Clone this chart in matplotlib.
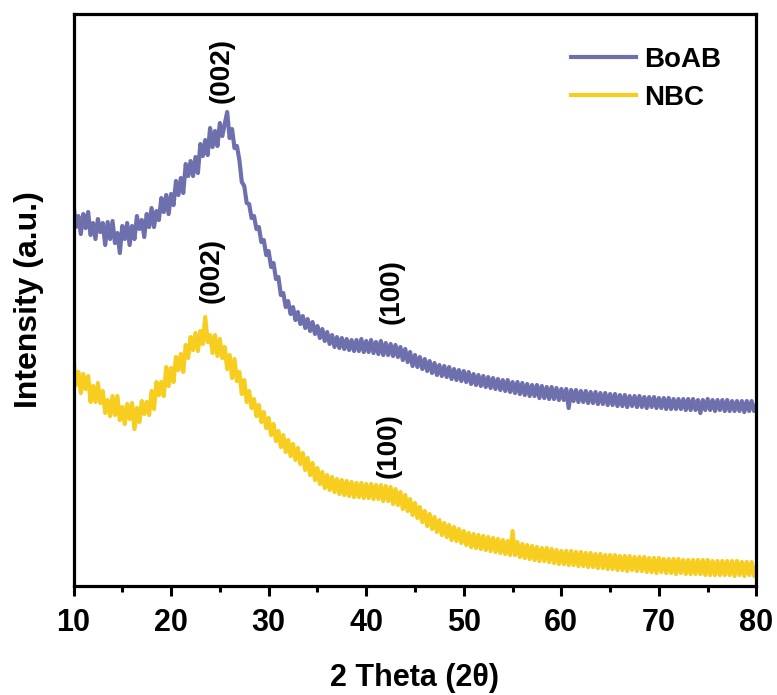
import numpy as np
import matplotlib.pyplot as plt

plt.rcParams['font.family'] = ['Liberation Sans', 'DejaVu Sans']
plt.rcParams['font.weight'] = 'bold'

# 2-theta grid (0.25 deg steps)
two_theta = np.arange(10, 80.001, 0.25)

# BoAB pattern (offset, a.u.)
boab = [
    382, 359, 370, 352,  372, 358, 374, 351,  363, 347, 367, 354,  363, 341, 364, 347,
    365, 343, 353, 333,  360, 347, 363, 341,  360, 347, 370, 357,  366, 349, 372, 359,
    378, 359, 375, 366,  388, 374, 391, 372,  392, 381, 405, 391,  408, 393, 422, 410,
    425, 410, 429, 413,  442, 430, 446, 431,  458, 439, 455, 440,  463, 450, 462, 474,
    448, 457, 438, 440,  426, 404, 400, 383,  382, 368, 370, 357,  359, 344, 346, 331,
    335, 319, 323, 307,  309, 291, 293, 279,  285, 272, 279, 266,  274, 262, 270, 258,
    267, 255, 264, 252,  260, 248, 257, 245,  254, 242, 251, 239,  249, 238, 248, 237,
    247, 236, 246, 235,  246, 235, 247, 234,  245, 234, 246, 233,  244, 232, 245, 231,
    243, 231, 242, 230,  241, 229, 239, 226,  237, 224, 234, 220,  231, 219, 229, 217,
    227, 215, 225, 213,  223, 211, 221, 210,  220, 209, 219, 207,  217, 206, 216, 205,
    215, 204, 214, 202,  212, 201, 211, 200,  210, 199, 209, 198,  208, 197, 207, 196,
    206, 195, 206, 194,  204, 193, 204, 192,  203, 191, 202, 190,  201, 190, 201, 188,
    200, 188, 199, 187,  199, 187, 198, 186,  197, 186, 197, 178,  196, 185, 196, 184,
    195, 184, 195, 183,  194, 183, 194, 182,  193, 182, 193, 181,  192, 181, 192, 180,
    191, 180, 191, 179,  190, 180, 190, 179,  190, 179, 189, 178,  189, 179, 189, 178,
    188, 178, 188, 177,  188, 177, 187, 177,  187, 177, 187, 176,  187, 176, 187, 176,
    186, 173, 186, 176,  187, 176, 186, 175,  186, 176, 186, 175,  186, 175, 185, 175,
    185, 175, 185, 174,  185, 175, 185, 175,  181,
]

# NBC pattern (a.u.)
nbc = [
    228, 201, 214, 193,  212, 197, 210, 184,  200, 184, 203, 183,  195, 173, 186, 170,
    190, 171, 190, 166,  179, 162, 182, 167,  183, 157, 178, 164,  185, 172, 184, 171,
    195, 177, 204, 191,  204, 190, 219, 200,  218, 204, 229, 216,  232, 214, 241, 228,
    249, 236, 253, 235,  255, 242, 269, 244,  251, 233, 251, 230,  247, 228, 239, 217,
    231, 208, 227, 205,  214, 192, 206, 184,  195, 178, 187, 170,  181, 164, 174, 158,
    168, 151, 162, 145,  155, 139, 151, 134,  146, 130, 142, 126,  138, 122, 133, 116,
    128, 111, 123, 106,  118, 102, 114, 98,  111, 96, 109, 94,  107, 92, 106, 91,
    105, 90, 104, 89,  103, 89, 103, 88,  102, 88, 102, 87,  101, 87, 101, 85,
    100, 85, 99, 82,  97, 81, 94, 77,  91, 75, 87, 71,  83, 68, 79, 64,
    75, 60, 72, 57,  69, 54, 66, 51,  63, 49, 61, 46,  59, 45, 57, 43,
    55, 41, 53, 39,  52, 38, 51, 37,  50, 36, 49, 35,  48, 34, 47, 33,
    46, 32, 45, 31,  55, 31, 44, 29,  42, 28, 41, 27,  40, 26, 39, 25,
    38, 25, 38, 24,  37, 23, 36, 22,  35, 22, 35, 21,  35, 21, 34, 20,
    34, 20, 33, 19,  33, 19, 32, 18,  32, 18, 31, 17,  31, 17, 31, 16,
    30, 16, 30, 15,  30, 16, 29, 15,  29, 15, 29, 14,  28, 14, 28, 13,
    28, 14, 27, 13,  27, 13, 27, 12,  27, 13, 26, 12,  26, 12, 26, 12,
    26, 12, 26, 11,  26, 11, 25, 11,  25, 11, 25, 11,  25, 11, 25, 10,
    25, 11, 24, 10,  24, 11, 24, 10,  19,
]

# peak labels: (text, 2theta, intensity)
peak_labels = [
    ('(002)', 25.2, 516),
    ('(100)', 42.6, 294),
    ('(002)', 24.2, 316),
    ('(100)', 42.3, 140),
]

fig = plt.figure(figsize=(7.77, 6.95), dpi=100)
ax = fig.add_axes([0.0946, 0.1568, 0.879, 0.823])

ax.plot(two_theta, boab, color='#6e70ae', lw=3.0, label='BoAB')
ax.plot(two_theta, nbc, color='#f7cd1f', lw=3.0, label='NBC')

for txt, xx, yy in peak_labels:
    ax.text(xx, yy, txt, rotation=90, ha='center', va='center',
            fontsize=20, fontweight='bold')

ax.set_xlim(10, 80)
ax.set_ylim(0, 572)
ax.set_xticks(range(10, 81, 10))
ax.set_xticks(range(15, 80, 10), minor=True)
ax.set_yticks([])
ax.tick_params(axis='x', which='major', length=7, width=2.2, labelsize=22, pad=9)
ax.tick_params(axis='x', which='minor', length=4, width=2.2)
for sp in ax.spines.values():
    sp.set_linewidth(2.3)

ax.set_xlabel('2 Theta (2θ)', fontsize=22, fontweight='bold', labelpad=18)
ax.set_ylabel('Intensity (a.u.)', fontsize=23, fontweight='bold', labelpad=21)

leg = ax.legend(loc='upper left', bbox_to_anchor=(0.728, 0.942), frameon=False,
                fontsize=20, handlelength=2.35, handletextpad=0.3,
                labelspacing=0.42, borderaxespad=0, borderpad=0)
for line in leg.get_lines():
    line.set_linewidth(3)

fig.savefig('out.png', dpi=100)
